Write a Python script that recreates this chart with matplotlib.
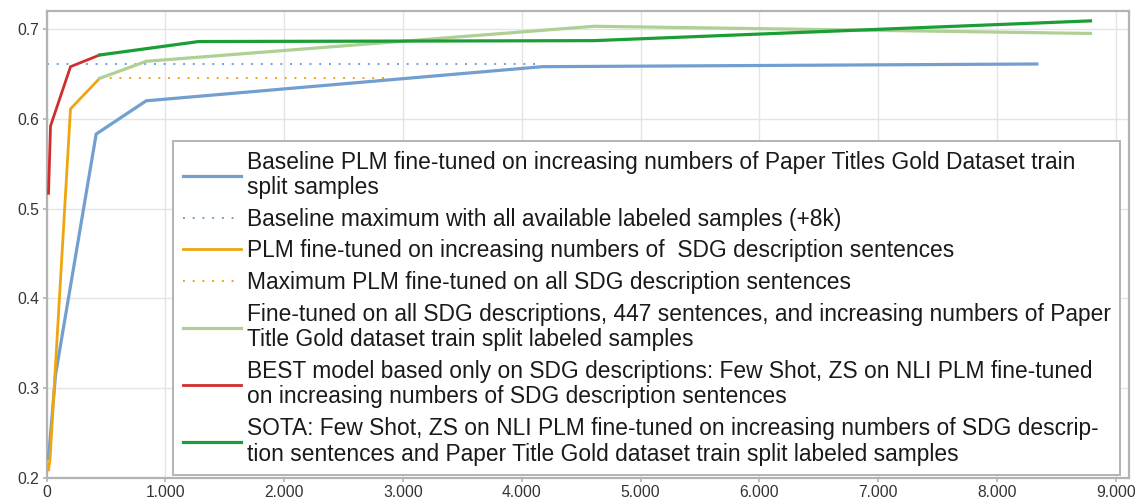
import matplotlib.pyplot as plt
from matplotlib.ticker import FuncFormatter, MultipleLocator

plt.rcParams["font.family"] = ["Liberation Sans", "DejaVu Sans"]

# Data
baseline_x = [17, 76, 418, 839, 4172, 8335]
baseline_y = [0.222, 0.315, 0.583, 0.620, 0.658, 0.661]
baseline_max_x = [0, 4172]
baseline_max_y = [0.661, 0.661]

plm_x = [17, 30, 202, 447]
plm_y = [0.209, 0.222, 0.611, 0.645]
plm_max_x = [447, 2902]
plm_max_y = [0.645, 0.645]

mixed_x = [447, 839, 4609, 8786]
mixed_y = [0.645, 0.664, 0.703, 0.695]

best_x = [17, 34, 202, 447]
best_y = [0.517, 0.592, 0.658, 0.671]

sota_x = [447, 1281, 4609, 8786]
sota_y = [0.671, 0.686, 0.687, 0.709]

labels = [
    "Baseline PLM fine-tuned on increasing numbers of Paper Titles Gold Dataset train\nsplit samples",
    "Baseline maximum with all available labeled samples (+8k)",
    "PLM fine-tuned on increasing numbers of  SDG description sentences",
    "Maximum PLM fine-tuned on all SDG description sentences",
    "Fine-tuned on all SDG descriptions, 447 sentences, and increasing numbers of Paper\nTitle Gold dataset train split labeled samples",
    "BEST model based only on SDG descriptions: Few Shot, ZS on NLI PLM fine-tuned\non increasing numbers of SDG description sentences",
    "SOTA: Few Shot, ZS on NLI PLM fine-tuned on increasing numbers of SDG descrip-\ntion sentences and Paper Title Gold dataset train split labeled samples",
]

fig = plt.figure(figsize=(11.35, 5.0), dpi=100)
ax = fig.add_axes([46.5 / 1135, 22 / 500, (1129 - 46.5) / 1135, (489 - 22) / 500])

ax.plot(baseline_x, baseline_y, color="#729fcf", lw=2.3, label=labels[0], zorder=3)
ax.plot(baseline_max_x, baseline_max_y, color="#729fcf", lw=1.4, ls=(0, (1, 4)), label=labels[1], zorder=2)
ax.plot(plm_x, plm_y, color="#eea510", lw=2.0, label=labels[2], zorder=3)
ax.plot(plm_max_x, plm_max_y, color="#eea510", lw=1.4, ls=(0, (1, 4)), label=labels[3], zorder=2)
ax.plot(mixed_x, mixed_y, color="#afd095", lw=2.3, label=labels[4], zorder=3)
ax.plot(best_x, best_y, color="#d12d2d", lw=2.0, label=labels[5], zorder=4)
ax.plot(sota_x, sota_y, color="#1a9e35", lw=2.3, label=labels[6], zorder=4)

ax.set_xlim(0, 9110)
ax.set_ylim(0.2, 0.72)
ax.xaxis.set_major_locator(MultipleLocator(1000))
ax.yaxis.set_major_locator(MultipleLocator(0.1))
ax.xaxis.set_major_formatter(FuncFormatter(lambda v, p: f"{int(v):,}".replace(",", ".")))
ax.yaxis.set_major_formatter(FuncFormatter(lambda v, p: f"{v:.1f}"))

ax.grid(True, color="#e4e4e4", lw=1.0)
ax.set_axisbelow(True)
for s in ax.spines.values():
    s.set_color("#b3b3b3")
    s.set_linewidth(1.6)
ax.tick_params(colors="#b3b3b3", labelcolor="#333333", labelsize=11.3, length=3, width=1.2, pad=2)

leg = ax.legend(loc="upper left", bbox_to_anchor=(173 / 1135, 1 - 141 / 500),
                bbox_transform=fig.transFigure, fontsize=16.4, frameon=True,
                fancybox=False, edgecolor="#b3b3b3", framealpha=1,
                handlelength=2.55, handletextpad=0.28, borderpad=0.42,
                labelspacing=0.38, borderaxespad=0)
leg.get_frame().set_linewidth(1.4)
for t in leg.get_texts():
    t.set_color("#1a1a1a")
    t.set_linespacing(1.14)

plt.savefig("out.png", dpi=100)
